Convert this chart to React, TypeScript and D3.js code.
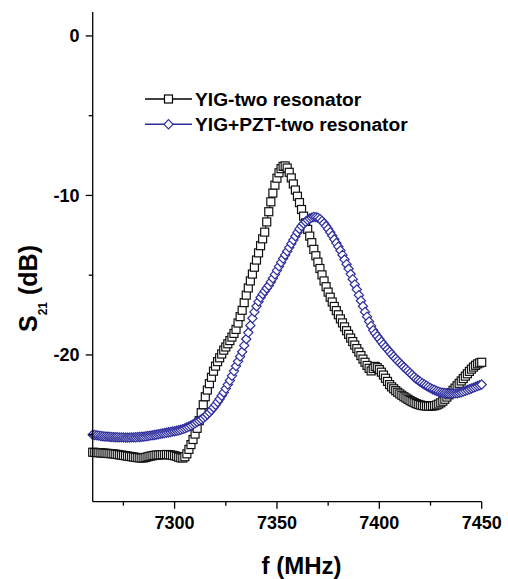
import React from "react";
import * as d3 from "d3";

// Frequency grid (MHz), sampled every 1 MHz
const FREQ: number[] = d3.range(7260, 7451, 1);

// S21 (dB) — YIG-two resonator
const YIG: number[] = [
  -26.10, -26.11, -26.12, -26.13, -26.14, -26.15, -26.16, -26.17, -26.18, -26.19,
  -26.20, -26.22, -26.24, -26.26, -26.28, -26.30, -26.32, -26.34, -26.36, -26.38,
  -26.40, -26.42, -26.44, -26.45, -26.46, -26.45, -26.42, -26.38, -26.35, -26.32,
  -26.30, -26.28, -26.27, -26.26, -26.25, -26.25, -26.24, -26.25, -26.27, -26.29,
  -26.32, -26.36, -26.41, -26.45, -26.46, -26.38, -26.20, -25.92, -25.62, -25.30,
  -24.96, -24.60, -24.12, -23.62, -23.12, -22.62, -22.20, -21.80, -21.40, -21.02,
  -20.70, -20.42, -20.18, -19.94, -19.70, -19.50, -19.30, -19.10, -18.88, -18.65,
  -18.40, -18.00, -17.60, -17.20, -16.72, -16.25, -15.80, -15.36, -14.93, -14.50,
  -14.05, -13.60, -13.15, -12.72, -12.30, -11.66, -11.02, -10.40, -9.85, -9.35,
  -8.92, -8.58, -8.32, -8.18, -8.15, -8.28, -8.55, -8.90, -9.28, -9.66,
  -10.05, -10.45, -10.88, -11.30, -11.72, -12.13, -12.55, -12.96, -13.38, -13.78,
  -14.18, -14.58, -14.98, -15.36, -15.72, -16.06, -16.38, -16.68, -16.96, -17.22,
  -17.48, -17.74, -17.99, -18.24, -18.48, -18.71, -18.94, -19.16, -19.38, -19.60,
  -19.82, -20.04, -20.26, -20.46, -20.66, -20.84, -21.00, -20.85, -20.72, -20.80,
  -20.92, -21.08, -21.26, -21.46, -21.66, -21.86, -22.00, -22.12, -22.24, -22.34,
  -22.44, -22.53, -22.62, -22.70, -22.78, -22.86, -22.93, -22.99, -23.05, -23.10,
  -23.14, -23.17, -23.19, -23.20, -23.21, -23.21, -23.20, -23.18, -23.14, -23.08,
  -23.00, -22.90, -22.78, -22.64, -22.50, -22.36, -22.22, -22.08, -21.93, -21.78,
  -21.63, -21.48, -21.33, -21.18, -21.03, -20.89, -20.76, -20.65, -20.56, -20.50,
  -20.46,
];

// S21 (dB) — YIG+PZT-two resonator
const YIG_PZT: number[] = [
  -25.00, -25.02, -25.04, -25.06, -25.08, -25.10, -25.11, -25.12, -25.13, -25.14,
  -25.15, -25.16, -25.16, -25.17, -25.17, -25.17, -25.18, -25.18, -25.18, -25.17,
  -25.17, -25.16, -25.15, -25.14, -25.13, -25.12, -25.10, -25.08, -25.06, -25.04,
  -25.02, -25.00, -24.97, -24.95, -24.92, -24.90, -24.88, -24.85, -24.83, -24.80,
  -24.78, -24.75, -24.72, -24.69, -24.65, -24.60, -24.55, -24.49, -24.42, -24.35,
  -24.28, -24.20, -24.12, -24.04, -23.95, -23.85, -23.73, -23.60, -23.45, -23.29,
  -23.13, -22.95, -22.76, -22.56, -22.35, -22.11, -21.86, -21.60, -21.31, -21.01,
  -20.70, -20.40, -20.10, -19.80, -19.40, -19.00, -18.60, -18.15, -17.70, -17.30,
  -16.95, -16.66, -16.40, -16.19, -16.00, -15.82, -15.65, -15.42, -15.19, -14.95,
  -14.70, -14.45, -14.20, -13.96, -13.73, -13.50, -13.27, -13.03, -12.80, -12.56,
  -12.32, -12.10, -11.92, -11.77, -11.65, -11.54, -11.45, -11.39, -11.35, -11.36,
  -11.40, -11.48, -11.60, -11.75, -11.92, -12.10, -12.31, -12.53, -12.75, -12.98,
  -13.21, -13.45, -13.73, -14.02, -14.31, -14.60, -14.93, -15.25, -15.58, -15.90,
  -16.25, -16.60, -16.95, -17.30, -17.60, -17.90, -18.18, -18.45, -18.65, -18.83,
  -19.00, -19.17, -19.34, -19.50, -19.65, -19.80, -19.95, -20.10, -20.24, -20.37,
  -20.50, -20.63, -20.76, -20.88, -21.00, -21.13, -21.25, -21.38, -21.50, -21.59,
  -21.68, -21.77, -21.85, -21.93, -22.01, -22.08, -22.15, -22.20, -22.26, -22.31,
  -22.35, -22.37, -22.39, -22.41, -22.42, -22.42, -22.42, -22.41, -22.40, -22.37,
  -22.34, -22.30, -22.25, -22.20, -22.15, -22.10, -22.05, -22.00, -21.95, -21.90,
  -21.85,
];

const X_MAJOR = [7300, 7350, 7400, 7450];
const X_MINOR = [7275, 7325, 7375, 7425];
const Y_MAJOR = [0, -10, -20];
const Y_MINOR = [-5, -15, -25];

const SERIES_NAMES = ["YIG-two resonator", "YIG+PZT-two resonator"];

const BLUE = "#2c2c9c";
const FONT = "'Liberation Sans', Arial, Helvetica, sans-serif";

export default function App() {
  const W = 508;
  const H = 579;
  const x = d3.scaleLinear().domain([7260, 7450]).range([92.7, 481.7]);
  const y = d3.scaleLinear().domain([-29.2, 1.5]).range([501.7, 12]);
  const x0 = x.range()[0];
  const yBottom = y.range()[0];

  const line = d3
    .line<number>()
    .x((_, i) => x(FREQ[i]))
    .y((v) => y(v));

  const diamond = (cx: number, cy: number, r: number) =>
    `M${cx},${cy - r}L${cx + r},${cy}L${cx},${cy + r}L${cx - r},${cy}Z`;

  const legendX1 = 145;
  const legendX2 = 192;
  const legendMid = (legendX1 + legendX2) / 2;
  const legendY = [99, 124.3];

  return (
    <svg
      width={W}
      height={H}
      style={{ position: "absolute", left: 0, top: 0, display: "block", background: "#fff" }}
      fontFamily={FONT}
      fontWeight="bold"
    >
      {/* series: black squares */}
      <path d={line(YIG) || ""} fill="none" stroke="#000" strokeWidth={1} />
      {YIG.map((v, i) => (
        <rect
          key={"s" + i}
          x={x(FREQ[i]) - 4}
          y={y(v) - 4}
          width={8}
          height={8}
          fill="#fff"
          stroke="#111"
          strokeWidth={1.2}
        />
      ))}
      {/* series: blue diamonds */}
      <path d={line(YIG_PZT) || ""} fill="none" stroke={BLUE} strokeWidth={1} />
      {YIG_PZT.map((v, i) => (
        <path
          key={"d" + i}
          d={diamond(x(FREQ[i]), y(v), 4.6)}
          fill="#fff"
          stroke={BLUE}
          strokeWidth={1.2}
        />
      ))}

      {/* axes */}
      <line x1={x0} x2={x0} y1={y.range()[1]} y2={yBottom} stroke="#000" strokeWidth={1.3} />
      <line x1={x0} x2={x(7450)} y1={yBottom} y2={yBottom} stroke="#000" strokeWidth={1.3} />
      {X_MAJOR.map((t) => (
        <g key={"xm" + t}>
          <line x1={x(t)} x2={x(t)} y1={yBottom} y2={yBottom + 7} stroke="#000" strokeWidth={1.3} />
          <text x={x(t)} y={529} textAnchor="middle" fontSize={18}>
            {t}
          </text>
        </g>
      ))}
      {X_MINOR.map((t) => (
        <line key={"xn" + t} x1={x(t)} x2={x(t)} y1={yBottom} y2={yBottom + 4} stroke="#000" strokeWidth={1.3} />
      ))}
      {Y_MAJOR.map((t) => (
        <g key={"ym" + t}>
          <line x1={x0 - 7} x2={x0} y1={y(t)} y2={y(t)} stroke="#000" strokeWidth={1.3} />
          <text x={79.5} y={y(t) + 6.5} textAnchor="end" fontSize={18}>
            {t}
          </text>
        </g>
      ))}
      {Y_MINOR.map((t) => (
        <line key={"yn" + t} x1={x0 - 4} x2={x0} y1={y(t)} y2={y(t)} stroke="#000" strokeWidth={1.3} />
      ))}

      {/* axis titles */}
      <text x={301.5} y={574} textAnchor="middle" fontSize={24}>
        f (MHz)
      </text>
      <text transform="translate(37,332) rotate(-90)" fontSize={25}>
        <tspan>S</tspan>
        <tspan fontSize={12} dy={10}>21</tspan>
        <tspan dy={-10}>{"\u00a0(dB)"}</tspan>
      </text>

      {/* legend */}
      <line x1={legendX1} x2={legendX2} y1={legendY[0]} y2={legendY[0]} stroke="#000" strokeWidth={1.5} />
      <rect x={legendMid - 4} y={legendY[0] - 4} width={8} height={8} fill="#fff" stroke="#000" strokeWidth={1.2} />
      <line x1={legendX1} x2={legendX2} y1={legendY[1]} y2={legendY[1]} stroke={BLUE} strokeWidth={1.5} />
      <path d={diamond(legendMid, legendY[1], 4.6)} fill="#fff" stroke={BLUE} strokeWidth={1.2} />
      {SERIES_NAMES.map((n, i) => (
        <text key={n} x={195} y={legendY[i] + 6.8} fontSize={19.2}>
          {n}
        </text>
      ))}
    </svg>
  );
}
